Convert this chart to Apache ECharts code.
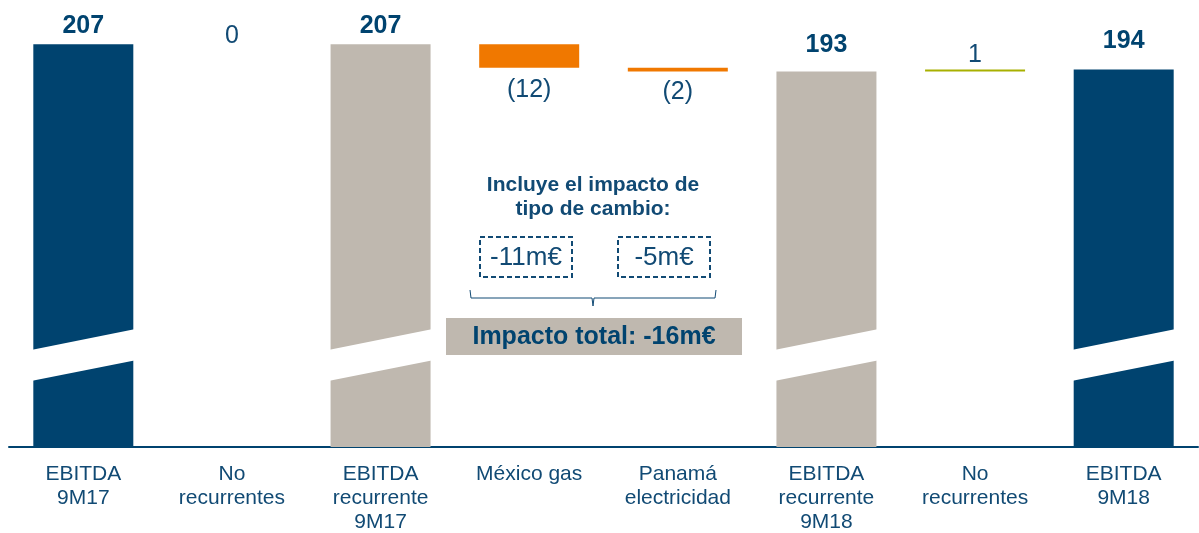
<!DOCTYPE html>
<html>
<head>
<meta charset="utf-8">
<script src="https://cdn.jsdelivr.net/npm/echarts@6/dist/echarts.min.js"></script>
<style>
  html, body { margin: 0; padding: 0; background: #fff; }
  #main { width: 1199px; height: 533px; }
</style>
</head>
<body>
<div id="main"></div>
<script>
// datos del puente EBITDA
const categories = ['EBITDA\n9M17', 'No\nrecurrentes', 'EBITDA\nrecurrente\n9M17', 'México gas',
  'Panamá\nelectricidad', 'EBITDA\nrecurrente\n9M18', 'No\nrecurrentes', 'EBITDA\n9M18']
const values = [207, 0, 207, -12, -2, 193, 1, 194]
const isTotal = [true, false, true, false, false, true, false, true]
const valueLabels = ['207', '0', '207', '(12)', '(2)', '193', '1', '194']

const NAVY = '#00436F'
const BEIGE = '#BFB8AF'
const ORANGE = '#F07800'
const OLIVE = '#A8B000'
const TEXT = '#114A74'
const barColors = [NAVY, 'transparent', BEIGE, ORANGE, ORANGE, BEIGE, OLIVE, NAVY]

// base invisible + altura visible
let running = 0
const baseData = []
const barData = []
values.forEach((v, i) => {
  if (isTotal[i]) {
    baseData.push(0)
    barData.push(v)
    running = v
  } else if (v >= 0) {
    baseData.push(running)
    barData.push(v)
    running += v
  } else {
    running += v
    baseData.push(running)
    barData.push(-v)
  }
})

// corte decorativo del eje (franja blanca inclinada)
const breakLeft = [34, 50]
const breakRight = [44.5, 60.5]
const breakBars = categories.map((c, i) => i).filter(i => isTotal[i])

const labelDistance = [6, -4, 6, 10, 8, 14, 2, 16]

let myChart = echarts.init(document.getElementById('main'))
myChart.setOption({
  animation: false,
  textStyle: { fontFamily: 'Liberation Sans, Arial, sans-serif' },
  grid: { left: 9, right: 1, top: 19, bottom: 86, outerBoundsMode: 'none', containLabel: false },
  xAxis: {
    type: 'category',
    data: categories,
    axisLine: { lineStyle: { color: NAVY, width: 2 } },
    axisTick: { show: false },
    axisLabel: { color: TEXT, fontSize: 21, lineHeight: 24, margin: 15, interval: 0 }
  },
  yAxis: {
    type: 'value', min: 0, max: 220, show: false,
    splitLine: { show: false }
  },
  series: [
    {
      type: 'bar', stack: 'w', barWidth: 100,
      itemStyle: { color: 'transparent' },
      data: baseData,
      silent: true
    },
    {
      type: 'bar', stack: 'w', barWidth: 100,
      data: barData.map((v, i) => ({
        value: v,
        itemStyle: { color: barColors[i] },
        label: {
          show: true,
          position: values[i] < 0 ? 'bottom' : 'top',
          distance: labelDistance[i],
          formatter: valueLabels[i],
          color: isTotal[i] ? NAVY : TEXT,
          fontWeight: isTotal[i] ? 'bold' : 'normal',
          fontSize: 25
        }
      }))
    },
    {
      type: 'custom',
      z: 10,
      silent: true,
      data: breakBars.map(i => [i]),
      renderItem: function (params, api) {
        const idx = api.value(0)
        const cx = api.coord([idx, 0])[0]
        const hw = 51
        return {
          type: 'polygon',
          shape: {
            points: [
              [cx - hw, api.coord([idx, breakLeft[0]])[1]],
              [cx + hw, api.coord([idx, breakRight[0]])[1]],
              [cx + hw, api.coord([idx, breakRight[1]])[1]],
              [cx - hw, api.coord([idx, breakLeft[1]])[1]]
            ]
          },
          style: { fill: '#fff' }
        }
      }
    }
  ],
  graphic: [
    {
      type: 'text', x: 593, y: 185,
      style: {
        text: 'Incluye el impacto de', align: 'center', verticalAlign: 'middle',
        fill: TEXT, font: 'bold 21px Liberation Sans, Arial'
      }
    },
    {
      type: 'text', x: 593, y: 209,
      style: {
        text: 'tipo de cambio:', align: 'center', verticalAlign: 'middle',
        fill: TEXT, font: 'bold 21px Liberation Sans, Arial'
      }
    },
    {
      type: 'rect', shape: { x: 480, y: 237, width: 92, height: 40 },
      style: { fill: 'none', stroke: TEXT, lineWidth: 2, lineDash: [5, 3] }
    },
    {
      type: 'text', x: 526, y: 258,
      style: { text: '-11m€', fill: TEXT, font: '26px Liberation Sans, Arial', align: 'center', verticalAlign: 'middle' }
    },
    {
      type: 'rect', shape: { x: 618, y: 237, width: 92, height: 40 },
      style: { fill: 'none', stroke: TEXT, lineWidth: 2, lineDash: [5, 3] }
    },
    {
      type: 'text', x: 664, y: 258,
      style: { text: '-5m€', fill: TEXT, font: '26px Liberation Sans, Arial', align: 'center', verticalAlign: 'middle' }
    },
    {
      type: 'polyline',
      shape: { points: [[470, 290], [471, 298], [592, 298], [593, 306], [594, 298], [715, 298], [716, 290]] },
      style: { fill: 'none', stroke: TEXT, lineWidth: 1 }
    },
    {
      type: 'rect', shape: { x: 446, y: 318, width: 296, height: 37 },
      style: { fill: BEIGE }
    },
    {
      type: 'text', x: 594, y: 337,
      style: { text: 'Impacto total: -16m€', fill: NAVY, font: 'bold 25px Liberation Sans, Arial', align: 'center', verticalAlign: 'middle' }
    }
  ]
})
</script>
</body>
</html>
